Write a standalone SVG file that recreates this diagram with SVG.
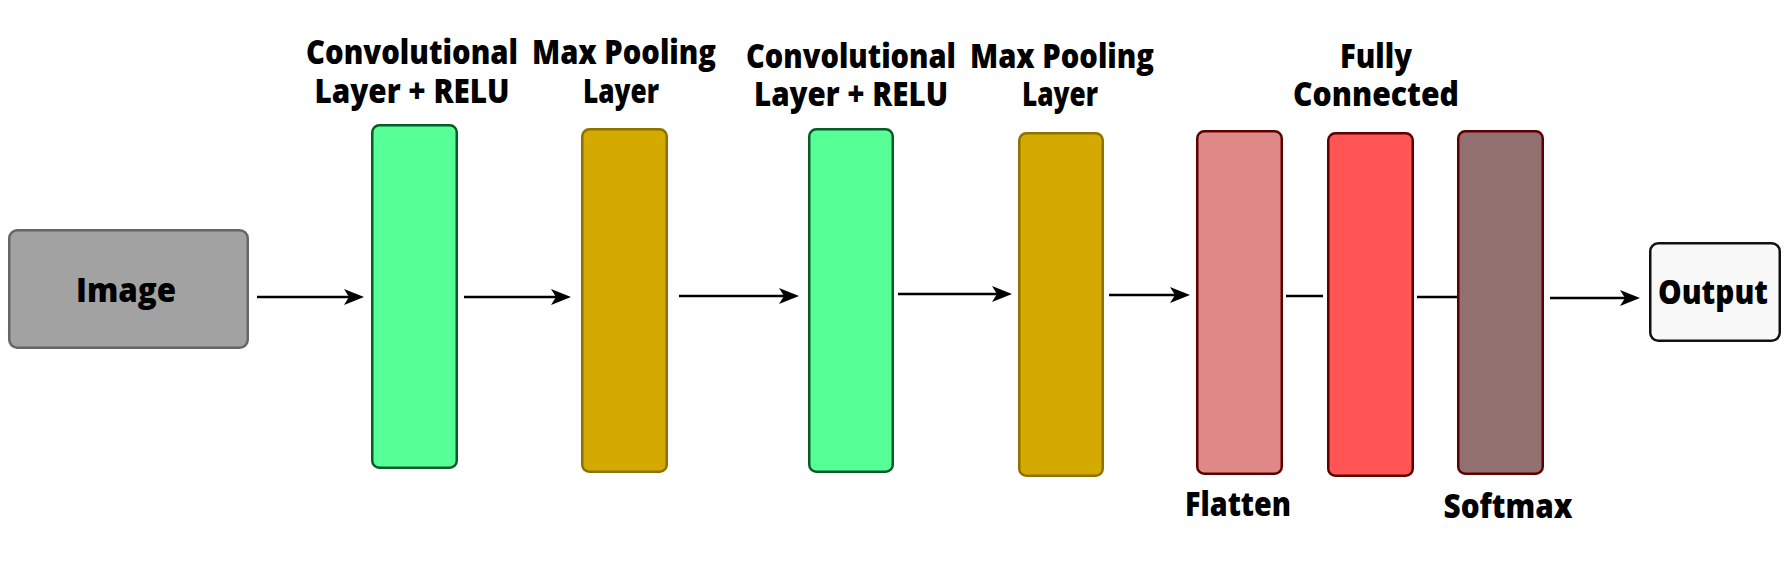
<svg xmlns="http://www.w3.org/2000/svg" width="1788" height="588" viewBox="0 0 1788 588">
<style>
text{font-family:"Open Sans","Noto Sans","Liberation Sans",sans-serif;font-weight:800;font-size:34px;fill:#000;text-anchor:middle}
.box{stroke-width:2.5}
.img{fill:#A2A2A2;stroke:#666666}
.conv{fill:#57FF97;stroke:#0B5A2A}
.pool{fill:#D4AA00;stroke:#8C7200}
.flat{fill:#DE8887;stroke:#5E0000}
.fc{fill:#FF5555;stroke:#5E0000}
.soft{fill:#937070;stroke:#5E0000}
.out{fill:#F8F8F8;stroke:#111111}
.conn{stroke:#000;stroke-width:2.4;fill:none}
.arr{marker-end:url(#ah)}
</style>
<defs>
<marker id="ah" markerUnits="userSpaceOnUse" markerWidth="22" markerHeight="18" refX="8" refY="8" orient="auto" viewBox="0 0 22 18">
<path d="M0,0 L20,8 L0,16 L5,8 Z" fill="#000"/>
</marker>
</defs>
<g id="connectors">
<line class="conn arr" x1="257" y1="297" x2="352" y2="297"/>
<line class="conn arr" x1="464" y1="297" x2="559" y2="297"/>
<line class="conn arr" x1="679" y1="296" x2="787" y2="296"/>
<line class="conn arr" x1="898" y1="294" x2="1000" y2="294"/>
<line class="conn arr" x1="1109" y1="295" x2="1178" y2="295"/>
<line class="conn" x1="1286" y1="296" x2="1323" y2="296"/>
<line class="conn" x1="1417" y1="297" x2="1457" y2="297"/>
<line class="conn arr" x1="1550" y1="298" x2="1628" y2="298"/>
</g>
<g id="image">
<rect class="box img" x="9.25" y="230.25" width="238.5" height="117.5" rx="8"/>
<text x="126" y="302" textLength="100" lengthAdjust="spacingAndGlyphs">Image</text>
</g>
<g id="conv1">
<rect class="box conv" x="372.25" y="125.25" width="84.5" height="342.5" rx="7"/>
<text x="412" y="64" textLength="212" lengthAdjust="spacingAndGlyphs">Convolutional</text>
<text x="412" y="102.5" textLength="195" lengthAdjust="spacingAndGlyphs">Layer + RELU</text>
</g>
<g id="pool1">
<rect class="box pool" x="582.25" y="129.25" width="84.5" height="342.5" rx="7"/>
<text x="624" y="64" textLength="184" lengthAdjust="spacingAndGlyphs">Max Pooling</text>
<text x="621" y="102.5" textLength="76" lengthAdjust="spacingAndGlyphs">Layer</text>
</g>
<g id="conv2">
<rect class="box conv" x="809.25" y="129.25" width="83.5" height="342.5" rx="7"/>
<text x="851" y="67.5" textLength="210" lengthAdjust="spacingAndGlyphs">Convolutional</text>
<text x="851" y="106" textLength="194" lengthAdjust="spacingAndGlyphs">Layer + RELU</text>
</g>
<g id="pool2">
<rect class="box pool" x="1019.25" y="133.25" width="83.5" height="342.5" rx="7"/>
<text x="1062" y="67.5" textLength="184" lengthAdjust="spacingAndGlyphs">Max Pooling</text>
<text x="1060" y="106" textLength="76" lengthAdjust="spacingAndGlyphs">Layer</text>
</g>
<g id="flatten">
<rect class="box flat" x="1197.25" y="131.25" width="84.5" height="342.5" rx="7"/>
<text x="1238" y="515.5" textLength="106" lengthAdjust="spacingAndGlyphs">Flatten</text>
</g>
<g id="fc">
<rect class="box fc" x="1328.25" y="133.25" width="84.5" height="342.5" rx="7"/>
<text x="1376" y="67.5" textLength="72" lengthAdjust="spacingAndGlyphs">Fully</text>
<text x="1376" y="106" textLength="166" lengthAdjust="spacingAndGlyphs">Connected</text>
</g>
<g id="softmax">
<rect class="box soft" x="1458.25" y="131.25" width="84.5" height="342.5" rx="7"/>
<text x="1508" y="517.5" textLength="129" lengthAdjust="spacingAndGlyphs">Softmax</text>
</g>
<g id="output">
<rect class="box out" x="1650.25" y="243.25" width="129.5" height="97.5" rx="8"/>
<text x="1713" y="303.5" textLength="110" lengthAdjust="spacingAndGlyphs">Output</text>
</g>
</svg>
